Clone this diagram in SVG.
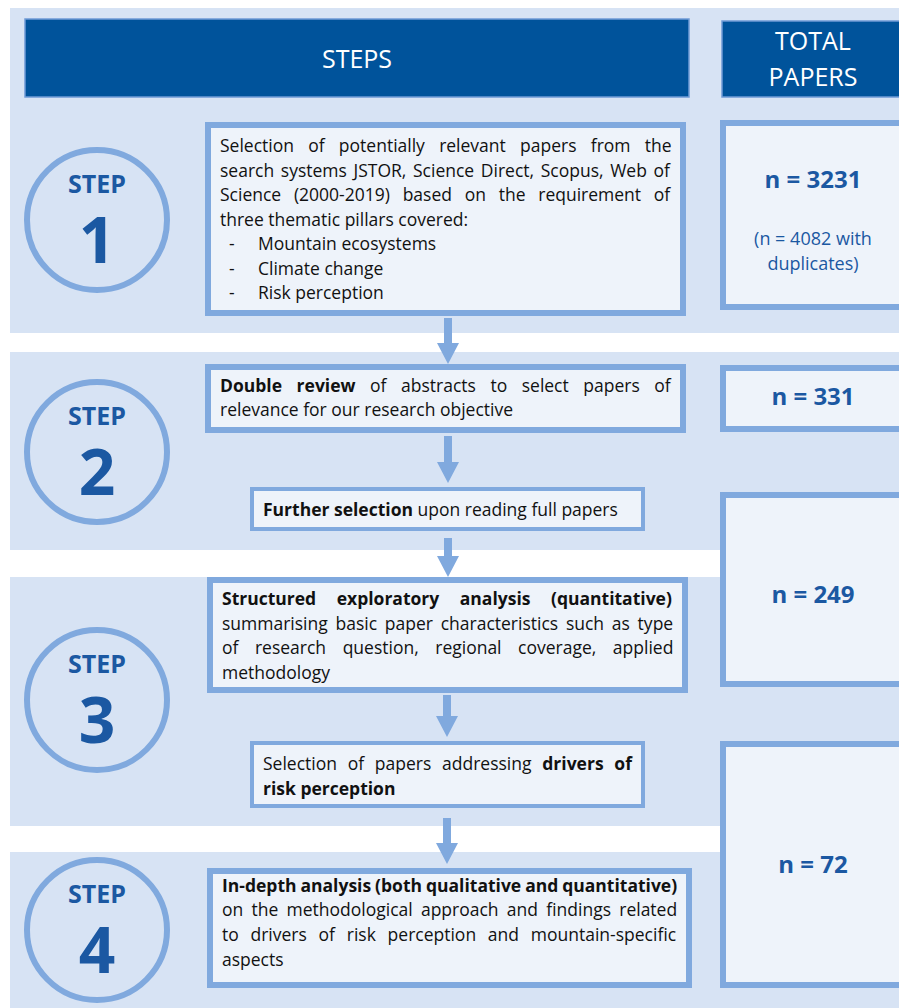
<svg xmlns="http://www.w3.org/2000/svg" width="899" height="1008" viewBox="0 0 899 1008">
<style>
.band{fill:#d7e3f4}
.hdr{fill:#00539b;stroke:#6f9bd6;stroke-width:1.5}
.hdrt{font-family:"Open Sans","Liberation Sans",sans-serif;font-size:25px;fill:#ffffff;text-anchor:middle}
.box{fill:#eef3fa;stroke:#80a9de;stroke-width:6}
.box2{fill:#eef3fa;stroke:#80a9de;stroke-width:4}
.circ{fill:none;stroke:#80a9de;stroke-width:6}
.st{font-family:"Open Sans","Liberation Sans",sans-serif;font-weight:bold;font-size:25px;fill:#1b58a2;text-anchor:middle}
.dg{font-family:"Open Sans","Liberation Sans",sans-serif;font-weight:bold;font-size:64px;fill:#1b58a2;text-anchor:middle}
.t{font-family:"Open Sans","Liberation Sans",sans-serif;font-size:17.5px;fill:#111111}
.b{font-weight:bold}
.n{font-family:"Open Sans","Liberation Sans",sans-serif;font-weight:bold;font-size:24px;fill:#1b58a2;text-anchor:middle}
.ns{font-family:"Open Sans","Liberation Sans",sans-serif;font-size:18px;fill:#1b58a2;text-anchor:middle}
.arr{fill:#80a9de}
</style>
<g id="bands">
<rect class="band" x="10" y="8" width="889" height="325"/>
<rect class="band" x="10" y="352" width="889" height="198"/>
<rect class="band" x="10" y="577" width="889" height="249"/>
<rect class="band" x="10" y="852" width="889" height="156"/>
</g>
<g id="header-steps">
<rect class="hdr" x="25" y="19" width="664" height="78"/>
<text class="hdrt" x="357" y="68">STEPS</text>
</g>
<g id="header-total">
<rect class="hdr" x="722" y="21" width="190" height="76"/>
<text class="hdrt" x="813" y="50">TOTAL</text>
<text class="hdrt" x="813" y="86">PAPERS</text>
</g>
<g id="step1">
<circle class="circ" cx="97" cy="220" r="70"/>
<text class="st" x="97" y="193">STEP</text>
<text class="dg" x="97" y="263">1</text>
</g>
<g id="step2">
<circle class="circ" cx="97" cy="452" r="70"/>
<text class="st" x="97" y="425">STEP</text>
<text class="dg" x="97" y="495">2</text>
</g>
<g id="step3">
<circle class="circ" cx="97" cy="700" r="70"/>
<text class="st" x="97" y="673">STEP</text>
<text class="dg" x="97" y="743">3</text>
</g>
<g id="step4">
<circle class="circ" cx="97" cy="930" r="70"/>
<text class="st" x="97" y="903">STEP</text>
<text class="dg" x="97" y="973">4</text>
</g>
<g id="box1">
<rect class="box" x="208" y="125" width="475" height="188"/>
<text class="t" x="220" y="152" style="word-spacing:9.7px">Selection of potentially relevant papers from the</text>
<text class="t" x="220" y="177" style="word-spacing:2.1px">search systems JSTOR, Science Direct, Scopus, Web of</text>
<text class="t" x="220" y="201" style="word-spacing:8.2px">Science (2000-2019) based on the requirement of</text>
<text class="t" x="220" y="226">three thematic pillars covered:</text>
<text class="t" x="229" y="250">-</text><text class="t" x="258" y="250">Mountain ecosystems</text>
<text class="t" x="229" y="275">-</text><text class="t" x="258" y="275">Climate change</text>
<text class="t" x="229" y="299">-</text><text class="t" x="258" y="299">Risk perception</text>
</g>
<g id="total1">
<rect class="box" x="723" y="123" width="200" height="184"/>
<text class="n" x="813" y="188">n = 3231</text>
<text class="ns" x="813" y="245">(n = 4082 with</text>
<text class="ns" x="813" y="270">duplicates)</text>
</g>
<g id="box2">
<rect class="box" x="208" y="367" width="475" height="63"/>
<text class="t" x="220" y="392" style="word-spacing:10px"><tspan class="b">Double review</tspan> of abstracts to select papers of</text>
<text class="t" x="220" y="416">relevance for our research objective</text>
</g>
<g id="box-further">
<rect class="box2" x="252" y="489" width="391" height="40"/>
<text class="t" x="263" y="516"><tspan class="b">Further selection</tspan> upon reading full papers</text>
</g>
<g id="total3">
<rect class="box" x="723" y="495" width="200" height="189"/>
<text class="n" x="813" y="603">n = 249</text>
</g>
<g id="total2">
<rect class="box" x="723" y="368" width="200" height="61"/>
<text class="n" x="813" y="405">n = 331</text>
</g>
<g id="box3">
<rect class="box" x="210" y="580" width="475" height="110"/>
<text class="t b" x="222" y="605" style="word-spacing:16px">Structured exploratory analysis (quantitative)</text>
<text class="t" x="222" y="630" style="word-spacing:3.2px">summarising basic paper characteristics such as type</text>
<text class="t" x="222" y="654" style="word-spacing:12px">of research question, regional coverage, applied</text>
<text class="t" x="222" y="679">methodology</text>
</g>
<g id="box-drivers">
<rect class="box2" x="252" y="743" width="391" height="63"/>
<text class="t" x="263" y="770" style="word-spacing:6.2px">Selection of papers addressing <tspan class="b">drivers of</tspan></text>
<text class="t b" x="263" y="795">risk perception</text>
</g>
<g id="total4">
<rect class="box" x="723" y="744" width="200" height="241"/>
<text class="n" x="813" y="873">n = 72</text>
</g>
<g id="box4">
<rect class="box" x="210" y="871" width="479" height="114"/>
<text class="t b" x="222" y="892" style="word-spacing:-0.6px">In-depth analysis (both qualitative and quantitative)</text>
<text class="t" x="222" y="916" style="word-spacing:3.7px">on the methodological approach and findings related</text>
<text class="t" x="222" y="941" style="word-spacing:7.2px">to drivers of risk perception and mountain-specific</text>
<text class="t" x="222" y="966">aspects</text>
</g>
<g id="connectors">
<polygon class="arr" points="444,318 452,318 452,343 459,343 448,364 437,343 444,343"/>
<polygon class="arr" points="444,436 452,436 452,462 459,462 448,483 437,462 444,462"/>
<polygon class="arr" points="444,538 452,538 452,556 459,556 448,577 437,556 444,556"/>
<polygon class="arr" points="443,695 451,695 451,716 458,716 447,737 436,716 443,716"/>
<polygon class="arr" points="443,818 451,818 451,843 458,843 447,864 436,843 443,843"/>
</g>
</svg>
